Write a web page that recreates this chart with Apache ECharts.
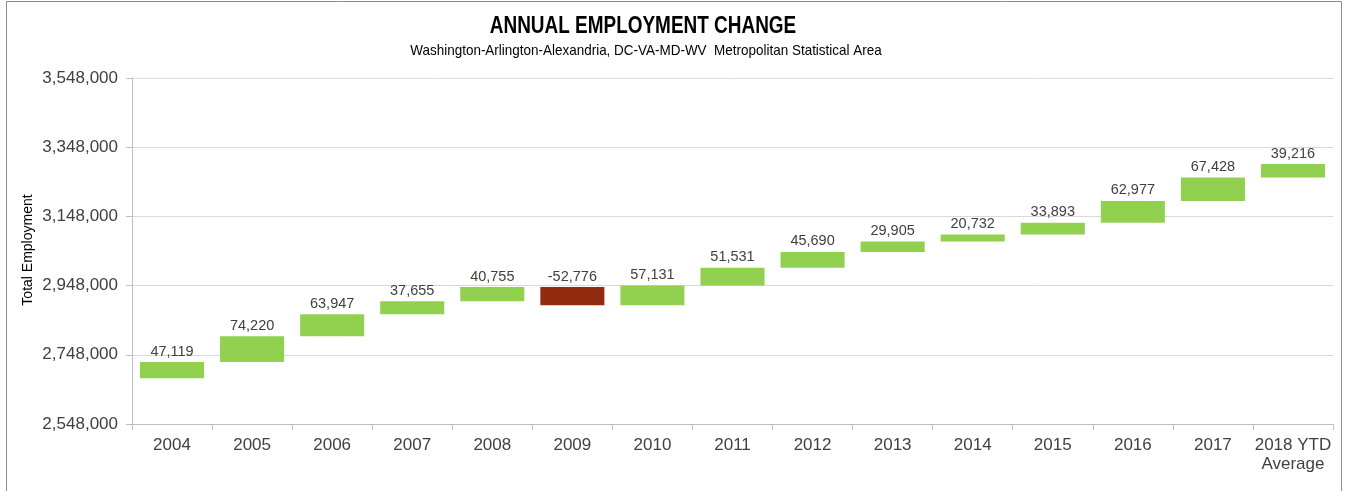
<!DOCTYPE html>
<html><head><meta charset="utf-8">
<script src="https://cdn.jsdelivr.net/npm/echarts@6/dist/echarts.min.js"></script>
<style>html,body{margin:0;padding:0;background:#fff}#c{width:1352px;height:491px}</style>
</head><body><div id="c"></div>
<script>
const categories = ['2004','2005','2006','2007','2008','2009','2010','2011','2012','2013','2014','2015','2016','2017','2018 YTD\nAverage'];
const changes = [47119,74220,63947,37655,40755,-52776,57131,51531,45690,29905,20732,33893,62977,67428,39216];
const startLevel = 2680000;
const yTicks = [2548000,2748000,2948000,3148000,3348000,3548000];
const titleText = 'ANNUAL EMPLOYMENT CHANGE';
const subtitleText = 'Washington-Arlington-Alexandria, DC-VA-MD-WV  Metropolitan Statistical Area';
const yAxisTitle = 'Total Employment';

const bases = [], heights = [];
let level = startLevel;
changes.forEach(d => {
  const next = level + d;
  bases.push(Math.min(level, next));
  heights.push({value: Math.abs(d), delta: d, itemStyle: {color: d < 0 ? '#922b10' : '#92d050'}});
  level = next;
});
const fmt = v => (v < 0 ? '-' : '') + Math.abs(v).toString().replace(/\B(?=(\d{3})+(?!\d))/g, ',');

const chart = echarts.init(document.getElementById('c'), null, {renderer: 'canvas'});
chart.setOption({
  animation: false,
  backgroundColor: '#fff',
  graphic: [
    {type: 'rect', shape: {x: 6.5, y: 1.5, width: 1335, height: 500}, style: {fill: 'none', stroke: '#8c8c8c', lineWidth: 1}, silent: true},
    {type: 'text', x: 643, y: 26, scaleX: 0.79, silent: true,
     style: {text: titleText, fontFamily: '"Liberation Sans", Arial, sans-serif', fontWeight: 'bold', fontSize: 24, fill: '#000', align: 'center', verticalAlign: 'middle'}},
    {type: 'text', x: 646, y: 51, scaleX: 0.91, silent: true,
     style: {text: subtitleText, fontFamily: '"Liberation Sans", Arial, sans-serif', fontSize: 14.8, fill: '#000', align: 'center', verticalAlign: 'middle'}},
    {type: 'text', x: 28, y: 250, rotation: Math.PI / 2, silent: true,
     style: {text: yAxisTitle, fontFamily: '"Liberation Sans", Arial, sans-serif', fontSize: 14, fill: '#000', align: 'center', verticalAlign: 'middle'}}
  ],
  grid: {left: 132, right: 19, top: 78, bottom: 67, containLabel: false},
  xAxis: {
    type: 'category', data: categories,
    axisLine: {lineStyle: {color: '#bfbfbf'}},
    axisTick: {show: true, alignWithLabel: false, length: 6, lineStyle: {color: '#bfbfbf'}},
    axisLabel: {fontFamily: '"Liberation Sans", Arial, sans-serif', fontSize: 17, color: '#404040', margin: 12, lineHeight: 19, interval: 0}
  },
  yAxis: {
    type: 'value', min: yTicks[0], max: yTicks[yTicks.length - 1], interval: 200000,
    axisLine: {show: true, lineStyle: {color: '#bfbfbf'}},
    axisTick: {show: true, length: 6, lineStyle: {color: '#bfbfbf'}},
    splitLine: {lineStyle: {color: '#d9d9d9', width: 1}},
    axisLabel: {fontFamily: '"Liberation Sans", Arial, sans-serif', fontSize: 17, color: '#404040', margin: 14, formatter: v => fmt(v)}
  },
  series: [
    {type: 'bar', stack: 'w', data: bases, itemStyle: {color: 'transparent'}, barCategoryGap: '20%', silent: true},
    {type: 'bar', stack: 'w', data: heights, barCategoryGap: '20%',
     label: {show: true, position: 'top', distance: 3, fontFamily: '"Liberation Sans", Arial, sans-serif', fontSize: 14.5, color: '#404040',
       formatter: p => fmt(p.data.delta)}}
  ]
});
</script></body></html>
